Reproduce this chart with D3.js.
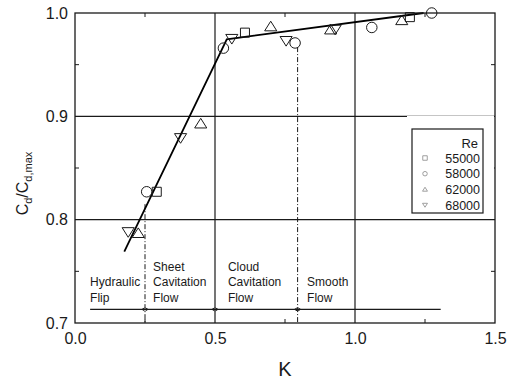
<!DOCTYPE html>
<html><head><meta charset="utf-8">
<script src="https://cdn.jsdelivr.net/npm/d3@7/dist/d3.min.js"></script>
<style>body{margin:0;background:#fff}svg{display:block;font-family:"Liberation Sans",Arial,sans-serif}</style>
</head><body><svg id="c" width="514" height="380"></svg>
<script>
// ---- data ----
const seriesNames = ["55000", "58000", "62000", "68000"];
const markerTypes = ["square", "circle", "up", "down"];
const k55 = [0.292, 0.607, 1.196];
const cd55 = [0.827, 0.981, 0.996];
const k58 = [0.256, 0.530, 0.786, 1.060, 1.274];
const cd58 = [0.827, 0.966, 0.971, 0.986, 1.000];
const k62 = [0.226, 0.449, 0.699, 0.913, 1.167];
const cd62 = [0.787, 0.893, 0.987, 0.984, 0.993];
const k68 = [0.190, 0.377, 0.560, 0.754, 0.929];
const cd68 = [0.788, 0.879, 0.975, 0.973, 0.984];
const fitK = [0.176, 0.542, 1.245];
const fitCd = [0.769, 0.9746, 1.0];
const xTicks = [0.0, 0.5, 1.0, 1.5];
const yTicks = [0.7, 0.8, 0.9, 1.0];
const xMinor = [0.25, 0.75, 1.25];
const yMinor = [0.75, 0.85, 0.95];
const regionBounds = [0.25, 0.795];
const regionBoundTop = [0.815, 0.967];
const regionLabels = [["Hydraulic", "Flip"], ["Sheet", "Cavitation", "Flow"], ["Cloud", "Cavitation", "Flow"], ["Smooth", "Flow"]];
const regionLabelK = [0.054, 0.279, 0.546, 0.829];
const regionLineK = [0.054, 1.306];
const regionLineCd = 0.7132;
const regionMarkK = [0.25, 0.5, 0.795];

// ---- layout ----
const svg = d3.select("#c");
const L = 75, R = 495, T = 13, B = 323;
const x = d3.scaleLinear().domain([0, 1.5]).range([L, R]);
const y = d3.scaleLinear().domain([0.7, 1.0]).range([B, T]);
const ink = "#1a1a1a";

const series = [[k55, cd55], [k58, cd58], [k62, cd62], [k68, cd68]].map((s, i) => ({
  name: seriesNames[i], type: markerTypes[i],
  pts: s[0].map((k, j) => ({k, v: s[1][j]}))
}));

function markerPath(type, s) {
  const h = s / 2;
  if (type === "square") return `M${-h},${-h}H${h}V${h}H${-h}Z`;
  if (type === "circle") return `M${-h},0A${h},${h} 0 1,0 ${h},0A${h},${h} 0 1,0 ${-h},0Z`;
  if (type === "up") return `M0,${-h * 0.95}L${h * 1.1},${h * 0.8}L${-h * 1.1},${h * 0.8}Z`;
  return `M0,${h * 0.95}L${h * 1.1},${-h * 0.8}L${-h * 1.1},${-h * 0.8}Z`;
}
const markerSize = {square: 9, circle: 10.5, up: 11, down: 11};

// grid lines
const g = svg.append("g");
[0.8, 0.9].forEach(v => g.append("line").attr("x1", L).attr("x2", R).attr("y1", y(v)).attr("y2", y(v))
  .attr("stroke", ink).attr("stroke-width", 1.2));
[0.5, 1.0].forEach(k => g.append("line").attr("x1", x(k)).attr("x2", x(k)).attr("y1", T).attr("y2", B)
  .attr("stroke", ink).attr("stroke-width", 1.2));

// minor ticks
xMinor.forEach(k => {
  g.append("line").attr("x1", x(k)).attr("x2", x(k)).attr("y1", B).attr("y2", B - 4).attr("stroke", ink);
  g.append("line").attr("x1", x(k)).attr("x2", x(k)).attr("y1", T).attr("y2", T + 4).attr("stroke", ink);
});
yMinor.forEach(v => {
  g.append("line").attr("x1", L).attr("x2", L + 4).attr("y1", y(v)).attr("y2", y(v)).attr("stroke", ink);
  g.append("line").attr("x1", R).attr("x2", R - 4).attr("y1", y(v)).attr("y2", y(v)).attr("stroke", ink);
});

// regime boundaries (dash-dot)
regionBounds.forEach((k, i) => g.append("line").attr("x1", x(k)).attr("x2", x(k))
  .attr("y1", y(regionBoundTop[i])).attr("y2", B)
  .attr("stroke", ink).attr("stroke-width", 1).attr("stroke-dasharray", "5,2,1,2"));

// regime baseline
g.append("line").attr("x1", x(regionLineK[0])).attr("x2", x(regionLineK[1]))
  .attr("y1", y(regionLineCd)).attr("y2", y(regionLineCd)).attr("stroke", ink).attr("stroke-width", 1.2);
regionMarkK.forEach(k => {
  [-1, 1].forEach(sgn => {
    const xx = x(k) + sgn * 3;
    g.append("path").attr("d", `M${xx - sgn * 2.5},${y(regionLineCd) - 1.5}L${xx},${y(regionLineCd)}L${xx - sgn * 2.5},${y(regionLineCd) + 1.5}`)
      .attr("fill", "none").attr("stroke", ink).attr("stroke-width", 1);
  });
});

// regime labels
regionLabels.forEach((lines, i) => {
  const n = lines.length;
  const t = g.append("text").attr("x", x(regionLabelK[i])).attr("font-size", 12).attr("fill", ink);
  lines.forEach((s, j) => t.append("tspan").attr("x", x(regionLabelK[i]))
    .attr("y", y(regionLineCd) - 7.5 - (n - 1 - j) * 15.5).text(s));
});

// fit line
const line = d3.line().x(d => x(d[0])).y(d => y(d[1]));
g.append("path").attr("d", line(fitK.map((k, i) => [k, fitCd[i]])))
  .attr("fill", "none").attr("stroke", "#000").attr("stroke-width", 1.8);

// markers
series.forEach(s => {
  g.selectAll(null).data(s.pts).enter().append("path")
    .attr("transform", d => `translate(${x(d.k)},${y(Math.min(d.v, 1.0))})`)
    .attr("d", markerPath(s.type, markerSize[s.type]))
    .attr("fill", "none").attr("stroke", ink).attr("stroke-width", 1);
});

// legend
const lg = svg.append("g");
lg.append("rect").attr("x", 407).attr("y", 116).attr("width", 87).attr("height", 102).attr("fill", "#fff");
lg.append("rect").attr("x", 412).attr("y", 129).attr("width", 71).attr("height", 84)
  .attr("fill", "#fff").attr("stroke", ink).attr("stroke-width", 1.2);
lg.append("text").attr("x", 478).attr("y", 148).attr("text-anchor", "end").attr("font-size", 13).attr("fill", ink).text("Re");
series.forEach((s, i) => {
  const yy = 158 + i * 15.7;
  lg.append("path").attr("transform", `translate(425,${yy})`).attr("d", markerPath(s.type, 4.5))
    .attr("fill", "none").attr("stroke", "#888").attr("stroke-width", 0.8);
  lg.append("text").attr("x", 480).attr("y", yy + 4.6).attr("text-anchor", "end").attr("font-size", 12.5)
    .attr("fill", ink).text(s.name);
});

// frame
svg.append("rect").attr("x", L).attr("y", T).attr("width", R - L).attr("height", B - T)
  .attr("fill", "none").attr("stroke", ink).attr("stroke-width", 1.3);

// axes labels
const fmt = d3.format(".1f");
const xa = svg.append("g").attr("transform", `translate(0,${B})`)
  .call(d3.axisBottom(x).tickValues(xTicks).tickFormat(fmt).tickSize(0).tickPadding(9.5));
const ya = svg.append("g").attr("transform", `translate(${L},0)`)
  .call(d3.axisLeft(y).tickValues(yTicks).tickFormat(fmt).tickSize(0).tickPadding(7));
[xa, ya].forEach(a => {
  a.select(".domain").remove();
  a.selectAll("text").attr("font-size", 16).attr("fill", ink).attr("font-family", "Liberation Sans, Arial, sans-serif");
});

svg.append("text").attr("x", 285).attr("y", 376).attr("text-anchor", "middle")
  .attr("font-size", 20).attr("fill", ink).text("K");

const yl = svg.append("text").attr("transform", "translate(27.5,183.5) rotate(-90)")
  .attr("text-anchor", "middle").attr("font-size", 16).attr("fill", ink);
yl.append("tspan").text("C");
yl.append("tspan").attr("font-size", 11).attr("dy", 4).text("d");
yl.append("tspan").attr("dy", -4).text("/C");
yl.append("tspan").attr("font-size", 11).attr("dy", 4).text("d,max");
</script></body></html>
